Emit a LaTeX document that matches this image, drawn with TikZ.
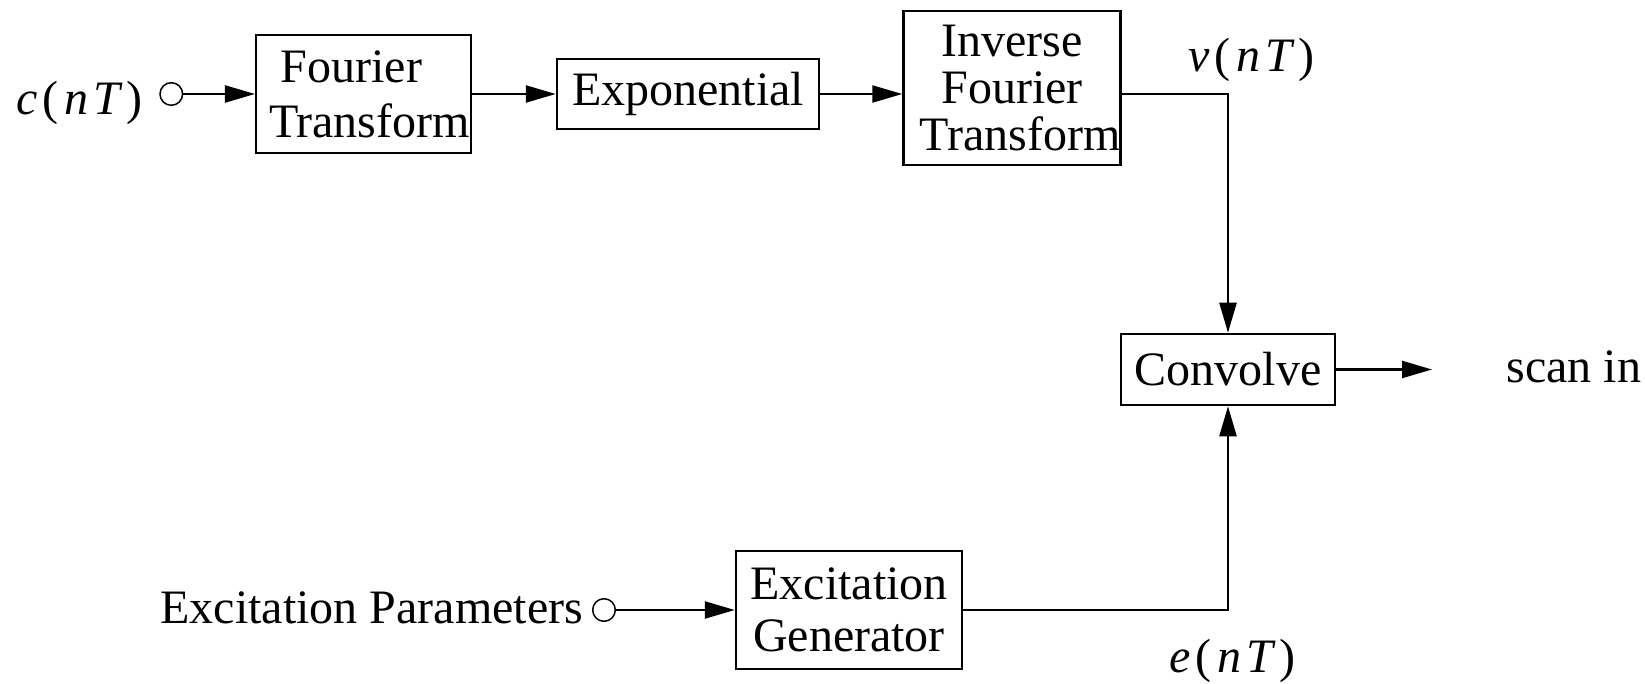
\documentclass[tikz,border=0pt]{standalone}
\usepackage{fontspec}
\setmainfont{Liberation Serif}
\usetikzlibrary{arrows.meta}
\newcommand{\mysig}[1]{\textit{#1}\kern2.6pt(\kern2.6pt\textit{n}\kern2.6pt\textit{T}\kern1.6pt)}
\begin{document}
\begin{tikzpicture}[x=0.5pt,y=-0.5pt,
  lab/.style={inner sep=0pt, font=\fontsize{24pt}{27pt}\selectfont, anchor=base west},
  blk/.style={draw, line width=1.25pt, inner sep=0pt, align=center},
  conn/.style={line width=1.15pt},
  arr/.style={conn, -{Triangle[length=15pt,width=8.5pt]}},
  port/.style={circle, draw, line width=0.75pt, minimum size=11.3pt, inner sep=0pt}]
\useasboundingbox (0,0) rectangle (1645,684);
% top row
\node[lab] (cnt) at (16,115) {\mysig{c}};
\node[port] (c1) at (171.3,94) {};
\node[blk, minimum width=107.3pt, minimum height=59pt, font=\fontsize{24pt}{27.5pt}\selectfont] (FT) at (363.5,94) {Fourier\hspace*{12pt}\\\hspace*{6pt}Transform};
\node[blk, minimum width=131pt, minimum height=35pt, font=\fontsize{24pt}{27.5pt}\selectfont] (EXP) at (688,94) {Exponential};
\node[blk, minimum width=107pt, minimum height=77pt, font=\fontsize{24pt}{23.5pt}\selectfont] (IFT) at (1012,88) {Inverse\\Fourier\\\hspace*{8pt}Transform};
\node[lab] (vnt) at (1188,71.7) {\mysig{v}};
% convolve
\node[blk, minimum width=107pt, minimum height=35.5pt, font=\fontsize{24pt}{27.5pt}\selectfont] (CONV) at (1228,369.5) {Convolve};
\coordinate (out) at (1432,370);
\node[lab] (scan) at (1506,383) {scan in};
% bottom row
\node[lab] (EP) at (160,623) {Excitation Parameters};
\node[port] (c2) at (604,610) {};
\node[blk, minimum width=113pt, minimum height=59pt, font=\fontsize{24pt}{26pt}\selectfont] (EG) at (849,610) {Excitation\\Generator};
\node[lab] (ent) at (1169,672) {\mysig{e}};
% connectors
\coordinate (k1) at (1228,94);
\coordinate (k2) at (1228,610);
\draw[arr] (c1) -- (FT);
\draw[arr] (FT) -- (EXP);
\draw[arr] (EXP.east) -- (EXP.east -| IFT.west);
\draw[arr] (k1 -| IFT.east) -- (k1) -- (CONV.north);
\draw[arr] (CONV.east) -- (CONV.east -| out);
\draw[arr] (c2) -- (EG);
\draw[arr] (EG.east) -- (k2) -- (CONV.south);
\end{tikzpicture}
\end{document}
